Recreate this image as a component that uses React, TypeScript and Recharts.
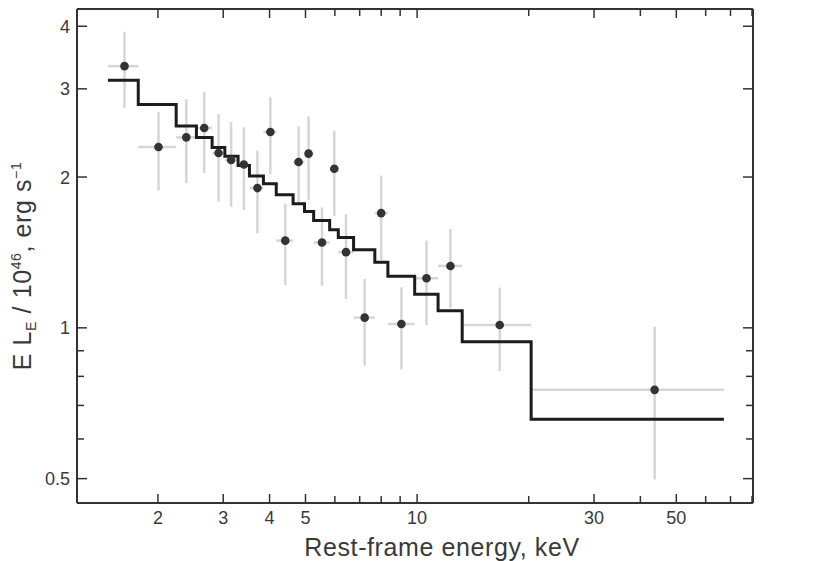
import React from "react";
import { ComposedChart, XAxis, YAxis, Scatter, Line, ErrorBar } from "recharts";

// energy bins (keV) of the spectrum, 23 edges -> 22 bins
const binEdges = [
  1.466, 1.77, 2.24, 2.54, 2.8, 3.03, 3.29, 3.53, 3.85, 4.17, 4.63, 4.97, 5.26, 5.81, 6.13, 6.74, 7.69, 8.34,
  9.85, 11.39, 13.23, 20.3, 67.2,
];
// best-fit model, one level per bin
const modelLevels = [
  3.12, 2.79, 2.53, 2.4, 2.29, 2.2, 2.11, 2.01, 1.94, 1.844, 1.768, 1.707, 1.637, 1.569, 1.514, 1.431, 1.352,
  1.267, 1.167, 1.082, 0.938, 0.657,
];
// measured points
const energy = [
  1.625, 2.007, 2.385, 2.666, 2.914, 3.15, 3.41, 3.71, 4.02, 4.41, 4.79, 5.096, 5.54, 5.98, 6.43, 7.22, 8.0, 9.07,
  10.6, 12.3, 16.7, 43.7,
];
const lum = [
  3.33, 2.296, 2.4, 2.506, 2.234, 2.163, 2.119, 1.901, 2.46, 1.493, 2.143, 2.227, 1.48, 2.078, 1.416, 1.048, 1.694,
  1.018, 1.256, 1.329, 1.013, 0.752,
];
const lumHigh = [
  3.9, 2.7, 2.86, 2.96, 2.673, 2.576, 2.513, 2.258, 2.885, 1.768, 2.525, 2.644, 1.739, 2.475, 1.686, 1.252, 2.014,
  1.205, 1.493, 1.576, 1.203, 1.005,
];
const lumLow = [
  2.75, 1.88, 1.945, 2.036, 1.787, 1.746, 1.72, 1.545, 2.028, 1.218, 1.774, 1.801, 1.214, 1.674, 1.142, 0.84, 1.366,
  0.826, 1.013, 1.094, 0.82, 0.498,
];

const xTicks = [2, 3, 4, 5, 6, 7, 8, 9, 10, 20, 30, 40, 50, 60, 70, 80];
const xLabels = [2, 3, 4, 5, 10, 30, 50];
const yTicks = [0.5, 0.6, 0.7, 0.8, 0.9, 1, 2, 3, 4];
const yLabels = [0.5, 1, 2, 3, 4];

const points = energy.map((x, i) => ({
  x,
  y: lum[i],
  ex: [x - binEdges[i], binEdges[i + 1] - x],
  ey: [lum[i] - lumLow[i], lumHigh[i] - lum[i]],
}));

const model = binEdges.map((x, i) => ({ x, y: modelLevels[Math.min(i, modelLevels.length - 1)] }));

const INK = "#333";
const TEXT = "#3a3a3a";
const FONT = "'Liberation Sans', Arial, sans-serif";
const X_DOMAIN = [1.21, 80.5];
const Y_DOMAIN = [0.447, 4.33];

function BottomTick({ x, y, payload }: any) {
  const major = xLabels.includes(payload.value);
  return (
    <g>
      <line x1={x} x2={x} y1={y} y2={y - (major ? 9 : 7)} stroke={INK} strokeWidth={1.5} />
      {major && (
        <text x={x} y={y + 21} textAnchor="middle" fontSize={18} fill={TEXT} fontFamily={FONT}>
          {payload.value}
        </text>
      )}
    </g>
  );
}

function TopTick({ x, y, payload }: any) {
  const major = xLabels.includes(payload.value);
  return <line x1={x} x2={x} y1={y} y2={y + (major ? 9 : 7)} stroke={INK} strokeWidth={1.5} />;
}

function LeftTick({ x, y, payload }: any) {
  const major = yLabels.includes(payload.value);
  return (
    <g>
      <line x1={x} x2={x + (major ? 10 : 7)} y1={y} y2={y} stroke={INK} strokeWidth={1.5} />
      {major && (
        <text x={x - 7} y={y + 6.5} textAnchor="end" fontSize={18} fill={TEXT} fontFamily={FONT}>
          {payload.value}
        </text>
      )}
    </g>
  );
}

function RightTick({ x, y, payload }: any) {
  const major = yLabels.includes(payload.value);
  return <line x1={x} x2={x - (major ? 10 : 7)} y1={y} y2={y} stroke={INK} strokeWidth={1.5} />;
}

const XTitle = () => (
  <text x={442} y={556} textAnchor="middle" fontSize={25} letterSpacing={0.6} fill={TEXT} fontFamily={FONT}>
    Rest-frame energy, keV
  </text>
);

const YTitle = () => (
  <text
    transform="translate(31,266) rotate(-90)"
    textAnchor="middle"
    fontSize={25}
    letterSpacing={0.6}
    fill={TEXT}
    fontFamily={FONT}
  >
    E L<tspan dy={5} fontSize={14}>E</tspan>
    <tspan dy={-5}> / 10</tspan>
    <tspan dy={-10} fontSize={14}>46</tspan>
    <tspan dy={10}>, erg s</tspan>
    <tspan dy={-10} fontSize={14}>−1</tspan>
  </text>
);

const Dot = ({ cx, cy }: any) => <circle cx={cx} cy={cy} r={4.3} fill={INK} />;
const NoDot = () => <g />;

export default function App() {
  return (
    <div style={{ position: "absolute", left: 0, top: 0, width: 830, height: 561, background: "#fff" }}>
      <ComposedChart width={830} height={561} margin={{ top: 0, right: 0, bottom: 0, left: 0 }}>
        <XAxis
          dataKey="x"
          type="number"
          scale="log"
          domain={X_DOMAIN}
          allowDataOverflow
          ticks={xTicks}
          interval={0}
          height={58}
          tickSize={0}
          tickMargin={0}
          tickLine={false}
          tick={<BottomTick />}
          axisLine={{ stroke: INK, strokeWidth: 2 }}
          label={{ content: XTitle }}
        />
        <XAxis
          xAxisId="top"
          orientation="top"
          dataKey="x"
          type="number"
          scale="log"
          domain={X_DOMAIN}
          allowDataOverflow
          ticks={xTicks}
          interval={0}
          height={9}
          tickSize={0}
          tickMargin={0}
          tickLine={false}
          tick={<TopTick />}
          axisLine={{ stroke: INK, strokeWidth: 2 }}
        />
        <YAxis
          type="number"
          scale="log"
          domain={Y_DOMAIN}
          allowDataOverflow
          ticks={yTicks}
          interval={0}
          width={77}
          tickSize={0}
          tickMargin={0}
          tickLine={false}
          tick={<LeftTick />}
          axisLine={{ stroke: INK, strokeWidth: 2 }}
          label={{ content: YTitle }}
        />
        <YAxis
          yAxisId="right"
          orientation="right"
          type="number"
          scale="log"
          domain={Y_DOMAIN}
          allowDataOverflow
          ticks={yTicks}
          interval={0}
          width={77}
          tickSize={0}
          tickMargin={0}
          tickLine={false}
          tick={<RightTick />}
          axisLine={{ stroke: INK, strokeWidth: 2 }}
        />
        <Scatter data={points} dataKey="y" shape={NoDot} isAnimationActive={false}>
          <ErrorBar dataKey="ey" direction="y" width={0} stroke="#d6d6d6" strokeWidth={2.5} isAnimationActive={false} />
          <ErrorBar dataKey="ex" direction="x" width={0} stroke="#d6d6d6" strokeWidth={2.5} isAnimationActive={false} />
        </Scatter>
        <Line
          data={model}
          dataKey="y"
          type="stepAfter"
          stroke="#1c1c1c"
          strokeWidth={3}
          dot={false}
          isAnimationActive={false}
        />
        <Scatter data={points} dataKey="y" shape={Dot} isAnimationActive={false} />
      </ComposedChart>
    </div>
  );
}
